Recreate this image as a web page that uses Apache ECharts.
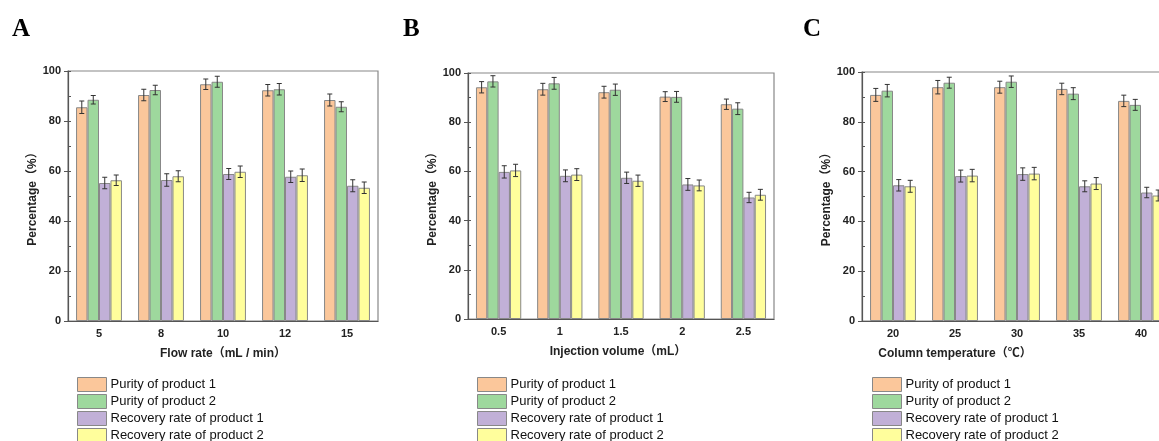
<!DOCTYPE html>
<html>
<head>
<meta charset="utf-8">
<script src="https://cdn.jsdelivr.net/npm/echarts@6/dist/echarts.min.js"></script>
<style>
  html, body { margin: 0; padding: 0; background: #fff; }
  #main { width: 1159px; height: 441px; }
</style>
</head>
<body>
<div id="main"></div>
<script>
// 图例名称
var seriesNames = ['Purity of product 1', 'Purity of product 2', 'Recovery rate of product 1', 'Recovery rate of product 2'];
var yTicks = [0, 20, 40, 60, 80, 100];

// A - 流速
var flowRates = ['5', '8', '10', '12', '15'];
var flowPurity1 = [85.5, 90.4, 94.7, 92.3, 88.4];
var flowPurity2 = [88.5, 92.4, 95.7, 92.7, 85.7];
var flowRecovery1 = [55.2, 56.4, 58.8, 57.7, 54.1];
var flowRecovery2 = [56.3, 57.9, 59.7, 58.3, 53.3];
var flowErr1 = [2.5, 2.3, 2.1, 2.3, 2.4];
var flowErr2 = [1.7, 1.9, 2.2, 2.3, 2.0];
var flowErr3 = [2.3, 2.5, 2.2, 2.3, 2.4];
var flowErr4 = [2.1, 2.2, 2.3, 2.5, 2.3];

// B - 进样体积
var injVolumes = ['0.5', '1', '1.5', '2', '2.5'];
var injPurity1 = [94.2, 93.4, 92.2, 90.4, 87.3];
var injPurity2 = [96.6, 95.8, 93.2, 90.3, 85.5];
var injRecovery1 = [59.8, 58.2, 57.4, 54.7, 49.4];
var injRecovery2 = [60.4, 58.7, 56.2, 54.3, 50.5];
var injErr1 = [2.3, 2.4, 2.4, 2.0, 2.1];
var injErr2 = [2.3, 2.4, 2.3, 2.2, 2.4];
var injErr3 = [2.5, 2.4, 2.3, 2.4, 2.1];
var injErr4 = [2.5, 2.4, 2.3, 2.2, 2.2];

// C - 柱温
var colTemps = ['20', '25', '30', '35', '40'];
var tempPurity1 = [90.8, 93.9, 93.9, 93.2, 88.4];
var tempPurity2 = [92.5, 95.7, 96.1, 91.3, 86.8];
var tempRecovery1 = [54.5, 58.2, 59.0, 54.1, 51.6];
var tempRecovery2 = [54.1, 58.4, 59.2, 55.2, 50.4];
var tempErr1 = [2.6, 2.7, 2.4, 2.3, 2.3];
var tempErr2 = [2.5, 2.2, 2.3, 2.4, 2.2];
var tempErr3 = [2.3, 2.4, 2.5, 2.2, 2.1];
var tempErr4 = [2.4, 2.5, 2.5, 2.4, 2.2];

var colors = ['#FBC79B', '#9ED89D', '#C1B0D7', '#FFFE9C'];
var catGap = 0.26;

var panels = [
  { label: 'A', cats: flowRates, name: 'Flow rate（mL / min）', vals: [flowPurity1, flowPurity2, flowRecovery1, flowRecovery2], errs: [flowErr1, flowErr2, flowErr3, flowErr4],
    grid: { left: 68, top: 71, width: 310, height: 250 }, title: [12, 17], legend: 77, nameShift: 0 },
  { label: 'B', cats: injVolumes, name: 'Injection volume（mL）', vals: [injPurity1, injPurity2, injRecovery1, injRecovery2], errs: [injErr1, injErr2, injErr3, injErr4],
    grid: { left: 468, top: 73, width: 306, height: 246 }, title: [403, 17], legend: 477, nameShift: 6 },
  { label: 'C', cats: colTemps, name: 'Column temperature（℃）', vals: [tempPurity1, tempPurity2, tempRecovery1, tempRecovery2], errs: [tempErr1, tempErr2, tempErr3, tempErr4],
    grid: { left: 862, top: 72, width: 310, height: 249 }, title: [803, 17], legend: 872, nameShift: 124 }
];

// 误差线
function errRender(k){
  return function(params, api){
    var idx = api.value(0), v = api.value(1), e = api.value(2);
    var W = api.size([1, 0])[0];
    var bw = W * (1 - catGap) / 4;
    var c = api.coord([idx, v]);
    var x = c[0] + (k - 1.5) * bw;
    var top = api.coord([idx, v + e])[1];
    var bot = api.coord([idx, v - e])[1];
    var st = { stroke: '#333', lineWidth: 1 };
    return { type: 'group', children: [
      { type: 'line', shape: { x1: x, y1: top, x2: x, y2: bot }, style: st },
      { type: 'line', shape: { x1: x - 2.5, y1: top, x2: x + 2.5, y2: top }, style: st },
      { type: 'line', shape: { x1: x - 2.5, y1: bot, x2: x + 2.5, y2: bot }, style: st }
    ]};
  };
}

var fontBase = 'Liberation Sans, Arial, Noto Sans CJK SC, sans-serif';
var option = { animation: false, title: [], grid: [], xAxis: [], yAxis: [], legend: [], series: [] };

panels.forEach(function(p, i){
  option.title.push({ text: p.label, left: p.title[0], top: p.title[1], padding: 0,
    textStyle: { fontFamily: 'Liberation Serif, DejaVu Serif, serif', fontWeight: 'bold', fontSize: 25, color: '#000' } });
  option.grid.push(Object.assign({ show: true, borderColor: '#888', borderWidth: 1.2, backgroundColor: 'transparent',
    outerBoundsMode: 'none', containLabel: false }, p.grid));
  option.xAxis.push({
    type: 'category', gridIndex: i, data: p.cats,
    name: p.name, nameLocation: 'middle', nameGap: 27,
    nameTextStyle: { fontFamily: fontBase, fontWeight: 'bold', fontSize: 12, color: '#222', padding: [0, p.nameShift, 0, 0] },
    axisLine: { lineStyle: { color: '#555', width: 1.2 } },
    axisTick: { alignWithLabel: true, length: 4, lineStyle: { color: '#555' } },
    axisLabel: { margin: 7, fontFamily: fontBase, fontWeight: 'bold', fontSize: 11, color: '#222' }
  });
  // 类目边界小刻度
  option.xAxis.push({
    type: 'category', gridIndex: i, data: p.cats, position: 'bottom',
    axisLine: { show: false }, axisLabel: { show: false },
    axisTick: { inside: true, length: 3, lineStyle: { color: '#555' } }
  });
  option.yAxis.push({
    type: 'value', gridIndex: i, min: yTicks[0], max: yTicks[yTicks.length - 1], interval: 20,
    name: 'Percentage（%）', nameLocation: 'middle', nameGap: 27,
    nameTextStyle: { fontFamily: fontBase, fontWeight: 'bold', fontSize: 12, color: '#222' },
    axisLine: { show: true, lineStyle: { color: '#555', width: 1.2 } },
    axisTick: { show: true, length: 4, lineStyle: { color: '#555' } },
    splitLine: { show: false },
    axisLabel: { margin: 7, fontFamily: fontBase, fontWeight: 'bold', fontSize: 11, color: '#222' }
  });
  // 内侧小刻度
  option.yAxis.push({
    type: 'value', gridIndex: i, position: 'left', min: yTicks[0], max: yTicks[yTicks.length - 1], interval: 10,
    axisLine: { show: false }, axisLabel: { show: false }, splitLine: { show: false },
    axisTick: { show: true, inside: true, length: 3, lineStyle: { color: '#555' } }
  });
  option.legend.push({
    data: seriesNames, orient: 'vertical', left: p.legend, top: 377, height: 70, padding: 0,
    itemWidth: 29, itemHeight: 14, itemGap: 2, icon: 'rect', selectedMode: false,
    itemStyle: { borderColor: '#888', borderWidth: 1 },
    textStyle: { fontFamily: fontBase, fontSize: 13, color: '#111', padding: [0, 0, 0, -1] }
  });
  for (var k = 0; k < 4; k++){
    option.series.push({
      name: seriesNames[k], type: 'bar', xAxisIndex: i * 2, yAxisIndex: i * 2,
      data: p.vals[k], barGap: 0, barCategoryGap: (catGap * 100) + '%',
      itemStyle: { color: colors[k], borderColor: '#888', borderWidth: 1 }
    });
  }
  for (var k2 = 0; k2 < 4; k2++){
    var ed = p.vals[k2].map(function(v, j){ return [j, v, p.errs[k2][j]]; });
    option.series.push({
      name: 'err' + i + '_' + k2, type: 'custom', xAxisIndex: i * 2, yAxisIndex: i * 2,
      renderItem: errRender(k2), data: ed, z: 5
    });
  }
});

var myChart = echarts.init(document.getElementById('main'));
myChart.setOption(option);
window.addEventListener('resize', function(){ myChart.resize(); });
</script>
</body>
</html>
